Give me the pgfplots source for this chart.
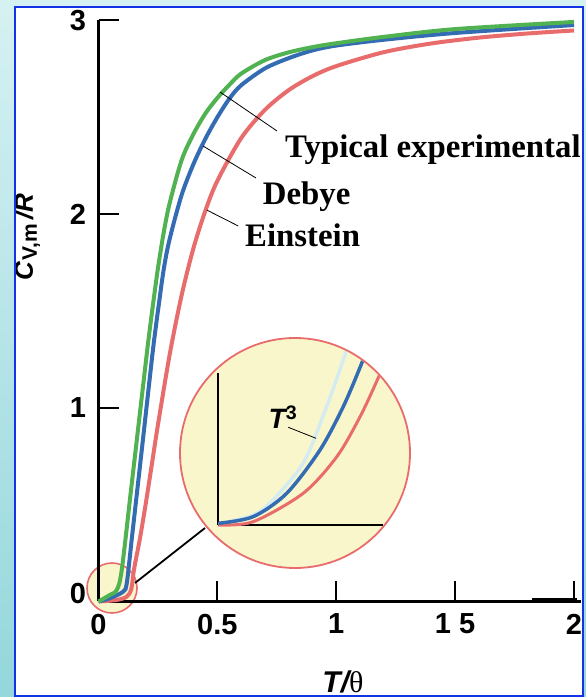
\documentclass[border=0pt]{standalone}
\usepackage{fontspec}
\setmainfont{Liberation Sans}
\newfontfamily\timesfont{Liberation Serif}
\usepackage{pgfplots}
\pgfplotsset{compat=1.18}
\definecolor{expgreen}{RGB}{80,178,80}
\definecolor{debyeblue}{RGB}{52,108,180}
\definecolor{einred}{RGB}{233,108,108}
\definecolor{lenscream}{RGB}{250,246,204}
\definecolor{tcubed}{RGB}{212,236,240}
\definecolor{frameblue}{RGB}{20,50,230}
\definecolor{skytop}{RGB}{214,241,242}
\definecolor{skybot}{RGB}{148,215,220}

\begin{document}
\begin{tikzpicture}[x=1pt,y=1pt]
\useasboundingbox (0,0) rectangle (586,697);
\shade[top color=skytop,bottom color=skybot] (0,0) rectangle (586,697);
\fill[white] (15,1) rectangle (583,689.5);
\begin{scope}
\clip (15,1) rectangle (583,689.5);
% the two lenses and the line between them
\filldraw[fill=lenscream,draw=einred,line width=1.6pt] (112,109) circle (25pt);
\fill[lenscream] (295,244) circle (115pt);
\draw[line width=1.8pt] (135,114) -- (205,169);

\begin{axis}[
  at={(98.5pt,95.5pt)}, anchor=south west,
  scale only axis, width=482.5pt, height=581.1pt,
  xmin=0, xmax=2.0294, ymin=0, ymax=3,
  axis lines=left,
  axis line style={-, line width=2.4pt, black},
  clip=false,
  xtick={0.5,1,1.5,2}, xticklabels={0.5,1,1 5,2},
  ytick={1,2,3}, yticklabels={1,2,3},
  extra x ticks={0}, extra x tick labels={0},
  extra y ticks={0.04}, extra y tick labels={0},
  extra tick style={major tick length=0pt},
  tick align=inside,
  major tick length=20pt,
  tick style={line width=2pt, black},
  ticklabel style={font=\fontsize{29}{29}\selectfont\bfseries},
  xticklabel style={yshift=-9pt},
  yticklabel style={xshift=-9pt},
]
% Einstein
\addplot[einred, line width=4pt, smooth] coordinates {
  (0,0) (0.077,0.008) (0.119,0.025) (0.138,0.065) (0.15,0.17) (0.175,0.33)
  (0.2,0.515) (0.225,0.713) (0.25,0.912) (0.3,1.279) (0.35,1.583)
  (0.4,1.827) (0.45,2.019) (0.5,2.172) (0.6,2.392) (0.7,2.538)
  (0.8,2.640) (0.9,2.712) (1.0,2.764) (1.2,2.836) (1.4,2.881)
  (1.6,2.911) (1.8,2.932) (2.0,2.948)
};
% Debye
\addplot[debyeblue, line width=4pt, smooth] coordinates {
  (0,0) (0.048,0.017) (0.104,0.051) (0.119,0.095) (0.14,0.324) (0.16,0.542)
  (0.185,0.815) (0.209,1.08) (0.23,1.31) (0.25,1.50) (0.275,1.72)
  (0.3,1.875) (0.35,2.10) (0.4,2.26) (0.45,2.39) (0.5,2.50) (0.55,2.595)
  (0.6,2.665) (0.7,2.752) (0.8,2.805) (0.9,2.845) (1.0,2.87) (1.2,2.90)
  (1.5,2.935) (2.0,2.976)
};
% typical experimental
\addplot[expgreen, line width=4pt, smooth] coordinates {
  (0,0) (0.048,0.034) (0.077,0.06) (0.098,0.165) (0.14,0.61) (0.19,1.14)
  (0.21,1.35) (0.23,1.54) (0.25,1.72) (0.275,1.91) (0.3,2.06) (0.35,2.28)
  (0.4,2.415) (0.45,2.52) (0.5,2.60) (0.55,2.667) (0.6,2.725) (0.7,2.795)
  (0.8,2.835) (0.9,2.862) (1.0,2.882) (1.2,2.915) (1.5,2.955) (2.0,2.992)
};
\draw[line width=3pt] (axis cs:1.822,0.008) -- (axis cs:2.011,0.008);
\end{axis}

% magnified low-temperature region
\begin{scope}
\clip (295,244) circle (114pt);
\begin{axis}[
  at={(218.3pt,172pt)}, anchor=south west,
  scale only axis, width=165pt, height=152pt,
  xmin=0, xmax=1, ymin=0, ymax=1,
  axis lines=left,
  axis line style={-, line width=2pt, black},
  ticks=none, clip=false,
]
\addplot[tcubed, line width=3.5pt, smooth] coordinates {
  (0,0.007) (0.2,0.06) (0.313,0.145) (0.515,0.408) (0.656,0.778) (0.767,1.118) (0.83,1.35)
};
\addplot[einred, line width=3pt, smooth] coordinates {
  (0,0) (0.212,0.022) (0.515,0.209) (0.718,0.449) (0.859,0.712) (0.968,0.965) (1.06,1.2)
};
\addplot[debyeblue, line width=3.5pt, smooth] coordinates {
  (0,0.011) (0.212,0.055) (0.415,0.209) (0.616,0.493) (0.757,0.778) (0.869,1.064) (0.95,1.3)
};
\end{axis}
\end{scope}
\draw[einred,line width=1.8pt] (295,244) circle (115pt);

\node at (283,280) {\fontsize{28}{28}\selectfont\bfseries\itshape T\textsuperscript{\upshape 3}};
\draw[line width=0.8pt] (288.3,269.7) -- (316,258.7);

% curve labels
\draw[line width=0.8pt] (220,605) -- (277,566);
\draw[line width=0.8pt] (203,551) -- (256,519);
\draw[line width=0.8pt] (206.7,487) -- (238.3,471);
\node[anchor=base west,inner sep=0pt] at (285,539) {\timesfont\fontsize{32.8}{32.8}\selectfont\bfseries Typical experimental};
\node[anchor=base west,inner sep=0pt] at (262.7,492) {\timesfont\fontsize{32.8}{32.8}\selectfont\bfseries Debye};
\node[anchor=base west,inner sep=0pt] at (245,450.3) {\timesfont\fontsize{32.8}{32.8}\selectfont\bfseries Einstein};

% axis titles
\node[rotate=90,inner sep=0pt] at (27,460) {\fontsize{26}{26}\selectfont\bfseries\itshape C\kern1pt\raisebox{-4pt}{\fontsize{21}{21}\selectfont\upshape V,m}\kern4pt/R};
\node[anchor=base,inner sep=0pt] at (343,5) {\fontsize{30}{30}\selectfont{\bfseries\itshape T/}{\timesfont θ}};
\end{scope}
\draw[frameblue,line width=2pt] (15,1) rectangle (583,689.5);
\end{tikzpicture}
\end{document}
